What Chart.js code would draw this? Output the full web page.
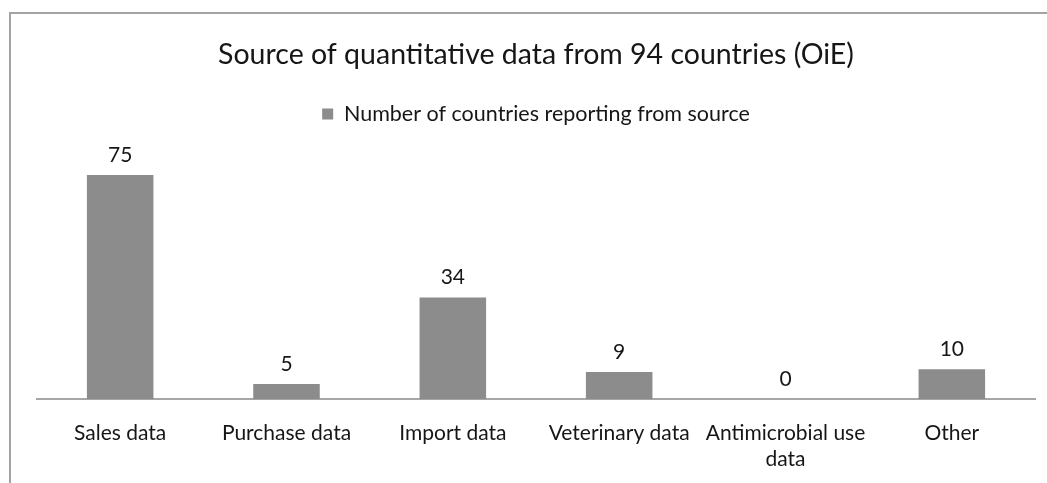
<!DOCTYPE html>
<html>
<head>
<meta charset="utf-8">
<script src="https://cdn.jsdelivr.net/npm/chart.js@4"></script>
<style>
  html, body { margin: 0; padding: 0; background: #fff; }
  #box { position: relative; width: 1047px; height: 483px; overflow: hidden; }
  #frame { position: absolute; left: 9px; top: 12px; width: 1100px; height: 600px;
           border-left: 2px solid #a3a3a3; border-top: 2px solid #a3a3a3; }
  canvas { position: absolute; left: 0; top: 0; }
</style>
</head>
<body>
<div id="box">
  <div id="frame"></div>
  <canvas id="grafico" width="1047" height="483"></canvas>
</div>
<script>
// dados
const categorias = ["Sales data", "Purchase data", "Import data", "Veterinary data", ["Antimicrobial use", "data"], "Other"];
const valores = [75, 5, 34, 9, 0, 10];
const nomeSerie = "Number of countries reporting from source";
const titulo = "Source of quantitative data from 94 countries (OiE)";

const fonte = "Lato, 'Open Sans', sans-serif";
const corTexto = "#161616";

// rotulo de valor em cima de cada barra
const rotulos = {
    id: "rotulos",
    afterDatasetsDraw(chart) {
        const ctx = chart.ctx;
        const meta = chart.getDatasetMeta(0);
        ctx.save();
        ctx.font = "21px " + fonte;
        ctx.fillStyle = corTexto;
        ctx.textAlign = "center";
        ctx.textBaseline = "middle";
        meta.data.forEach((bar, i) => {
            ctx.fillText(valores[i], bar.x, bar.y - 20);
        });
        ctx.restore();
    }
};

const ctx = document.getElementById("grafico").getContext("2d");
new Chart(ctx, {
    type: "bar",
    data: {
        labels: categorias,
        datasets: [{
            label: nomeSerie,
            data: valores,
            backgroundColor: "#8c8c8c",
            borderWidth: 0,
            categoryPercentage: 1,
            barPercentage: 0.4
        }]
    },
    options: {
        responsive: false,
        animation: false,
        layout: { padding: { left: 37, right: 12, top: 12, bottom: 12 } },
        plugins: {
            title: {
                display: true,
                text: titulo,
                color: corTexto,
                font: { family: fonte, size: 28.5, weight: "normal" },
                padding: { top: 26, bottom: 21 }
            },
            legend: {
                display: true,
                labels: {
                    color: corTexto,
                    font: { family: fonte, size: 21.5 },
                    boxWidth: 11,
                    boxHeight: 11,
                    padding: 10
                }
            },
            tooltip: { enabled: false }
        },
        scales: {
            x: {
                grid: { display: false, drawTicks: false },
                border: { display: true, color: "#a6a6a6", width: 2 },
                ticks: {
                    color: corTexto,
                    font: { family: fonte, size: 21, lineHeight: 1.24 },
                    padding: 21,
                    maxRotation: 0,
                    autoSkip: false
                },
                afterFit(scale) {
                    scale.height = 72;
                }
            },
            y: {
                display: false,
                min: 0,
                max: 88.5
            }
        }
    },
    plugins: [rotulos]
});
</script>
</body>
</html>
